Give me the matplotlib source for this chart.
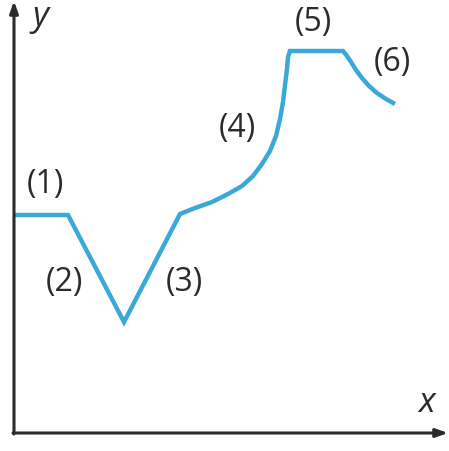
import matplotlib
matplotlib.use("Agg")
import matplotlib.pyplot as plt

# points (origin at the corner of the axes)
curve_x = [0, 54, 110, 166, 181, 198, 214, 228, 239, 248, 256, 262, 266, 269, 271, 273, 274, 276,
           329, 333, 337, 342, 348, 355, 363, 372, 381]
curve_y = [218, 218, 111, 219, 225, 231, 239, 247, 257, 269, 282, 297, 314, 331, 348, 364, 376, 382,
           382, 377, 371, 363, 355, 347, 340, 334, 329]

labels = ["(1)", "(2)", "(3)", "(4)", "(5)", "(6)"]
label_x = [31, 50, 170, 223, 299, 378]
label_y = [249, 152, 152, 306, 411, 371]

blue = "#3aa8d8"
dark = "#2b2b2b"

fig = plt.figure(figsize=(4.49, 4.52), dpi=100)
ax = fig.add_axes([0, 0, 1, 1])
ax.set_xlim(-14, 435)
ax.set_ylim(-18, 434)
ax.axis("off")

# axes with arrows
ax.annotate("", xy=(0, 432), xytext=(0, -1),
            arrowprops=dict(arrowstyle="-|>,head_length=0.7,head_width=0.25", lw=2.2, color=dark, shrinkA=0, shrinkB=0))
ax.annotate("", xy=(434, 0), xytext=(-1, 0),
            arrowprops=dict(arrowstyle="-|>,head_length=0.7,head_width=0.25", lw=2.2, color=dark, shrinkA=0, shrinkB=0))

ax.plot(curve_x, curve_y, color=blue, lw=3.2, solid_joinstyle="miter", solid_capstyle="butt")

for t, x, y in zip(labels, label_x, label_y):
    ax.text(x, y, t, fontsize=23, family=["Open Sans", "DejaVu Sans"], color=dark, ha="center", va="center")

ax.text(26, 417, "y", fontsize=25, style="italic", family=["Open Sans", "DejaVu Sans"], color=dark, ha="center", va="center")
ax.text(413, 31, "x", fontsize=25, style="italic", family=["Open Sans", "DejaVu Sans"], color=dark, ha="center", va="center")

fig.savefig("out.png", dpi=100)
